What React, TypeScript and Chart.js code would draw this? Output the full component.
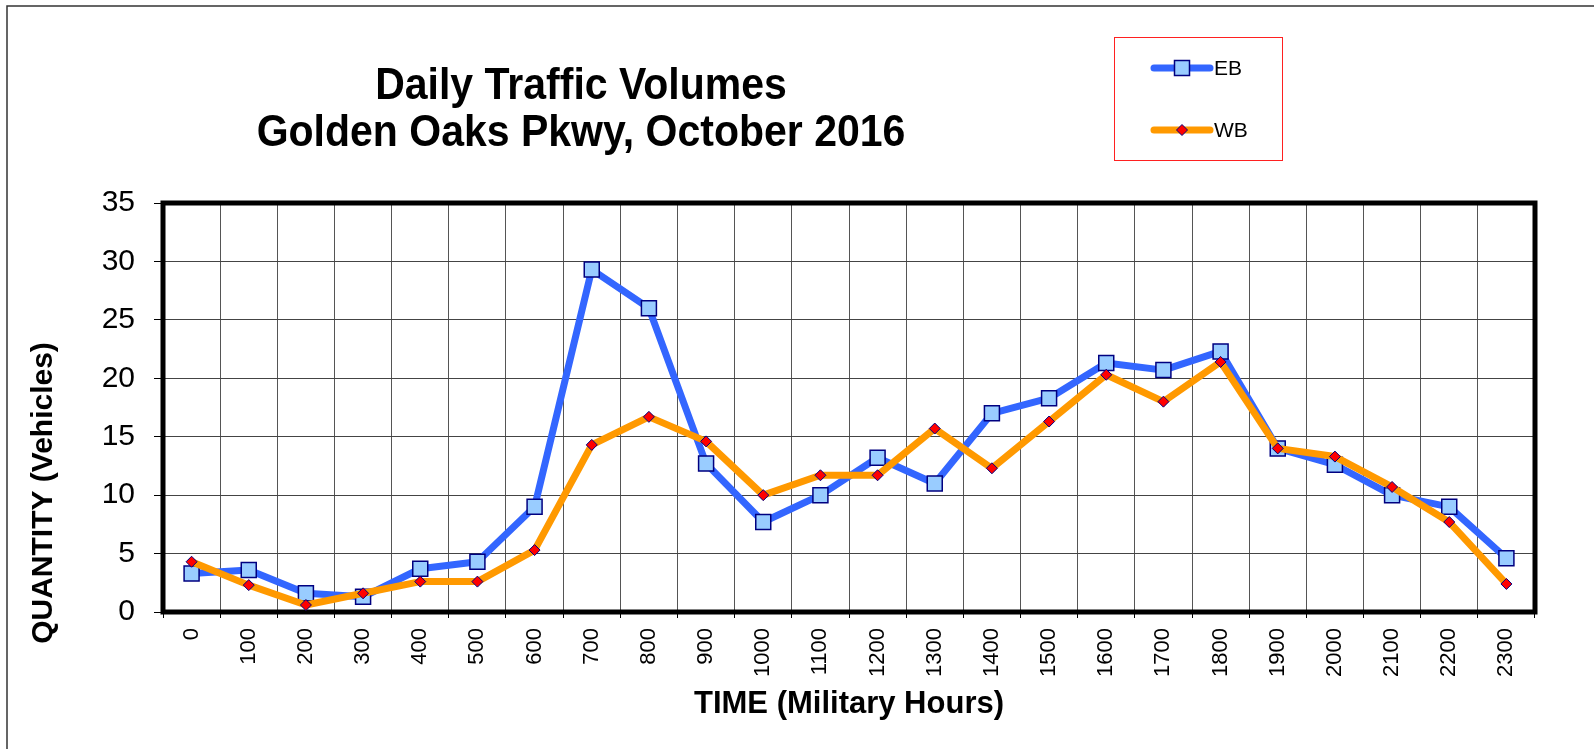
import React, { useEffect, useRef } from 'react';
import { Chart, registerables } from 'chart.js';

Chart.register(...registerables);

const categories = ['0', '100', '200', '300', '400', '500', '600', '700', '800', '900', '1000', '1100', '1200', '1300', '1400', '1500', '1600', '1700', '1800', '1900', '2000', '2100', '2200', '2300'];
const ebValues = [3.3, 3.6, 1.6, 1.3, 3.7, 4.3, 9.0, 29.3, 26.0, 12.7, 7.7, 10.0, 13.2, 11.0, 17.0, 18.3, 21.3, 20.7, 22.3, 14.0, 12.6, 10.0, 9.0, 4.6];
const wbValues = [4.3, 2.3, 0.6, 1.6, 2.6, 2.6, 5.3, 14.3, 16.7, 14.6, 10.0, 11.7, 11.7, 15.7, 12.3, 16.3, 20.3, 18.0, 21.4, 14.0, 13.3, 10.7, 7.7, 2.4];
const seriesNames = ['EB', 'WB'];
const titleLines = ['Daily Traffic Volumes', 'Golden Oaks Pkwy, October 2016'];
const xAxisTitle = 'TIME (Military Hours)';
const yAxisTitle = 'QUANTITY (Vehicles)';
const yMin = 0;
const yMax = 35;
const yStep = 5;

const FONT = '"Liberation Sans", Arial, Helvetica, sans-serif';

const decorPlugin = {
  id: 'decor',
  beforeDatasetsDraw(chart: any) {
    const { ctx, chartArea: a } = chart;
    ctx.save();
    ctx.strokeStyle = '#000';
    ctx.lineWidth = 5;
    ctx.strokeRect(a.left, a.top, a.right - a.left, a.bottom - a.top);
    ctx.restore();
  },
  afterDraw(chart: any) {
    const { ctx, chartArea: a } = chart;
    ctx.save();
    // outer chart border
    ctx.strokeStyle = '#333';
    ctx.lineWidth = 1.5;
    ctx.beginPath();
    ctx.moveTo(7, 760);
    ctx.lineTo(7, 6);
    ctx.lineTo(1600, 6);
    ctx.stroke();

    // title
    ctx.fillStyle = '#000';
    ctx.textAlign = 'center';
    ctx.textBaseline = 'alphabetic';
    ctx.font = 'bold 41px ' + FONT;
    const baselines = [98.5, 145.5];
    titleLines.forEach((t, i) => {
      ctx.save();
      ctx.translate(581, baselines[i]);
      ctx.scale(1, 1.07);
      ctx.fillText(t, 0, 0);
      ctx.restore();
    });

    // x axis title
    ctx.font = 'bold 31px ' + FONT;
    ctx.fillText(xAxisTitle, (a.left + a.right) / 2, 713);

    // y axis title
    ctx.save();
    ctx.translate(52, 493);
    ctx.rotate(-Math.PI / 2);
    ctx.font = 'bold 30px ' + FONT;
    ctx.fillText(yAxisTitle, 0, 0);
    ctx.restore();

    // legend
    ctx.strokeStyle = '#ff2020';
    ctx.lineWidth = 1;
    ctx.strokeRect(1114.5, 37.5, 168, 123);
    const rows = [68, 130];
    chart.data.datasets.forEach((ds: any, i: number) => {
      const y = rows[i];
      ctx.strokeStyle = ds.borderColor;
      ctx.lineWidth = 7;
      ctx.lineCap = 'round';
      ctx.beginPath();
      ctx.moveTo(1154, y);
      ctx.lineTo(1210, y);
      ctx.stroke();
      ctx.lineCap = 'butt';
      ctx.fillStyle = ds.pointBackgroundColor;
      ctx.strokeStyle = ds.pointBorderColor;
      ctx.lineWidth = ds.pointBorderWidth;
      ctx.beginPath();
      if (ds.pointStyle === 'rect') {
        ctx.rect(1182 - 7.5, y - 7.5, 15, 15);
      } else {
        const r = ds.pointRadius;
        ctx.moveTo(1182, y - r);
        ctx.lineTo(1182 + r, y);
        ctx.lineTo(1182, y + r);
        ctx.lineTo(1182 - r, y);
        ctx.closePath();
      }
      ctx.fill();
      ctx.stroke();
      ctx.fillStyle = '#000';
      ctx.textAlign = 'left';
      ctx.textBaseline = 'middle';
      ctx.font = '21px ' + FONT;
      ctx.fillText(ds.label, 1214, y + 1);
    });
    ctx.restore();
  },
};

export default function App() {
  const canvasRef = useRef<HTMLCanvasElement | null>(null);

  useEffect(() => {
    const canvas = canvasRef.current;
    if (!canvas) return;
    const chart = new Chart(canvas, {
      type: 'line',
      data: {
        labels: categories,
        datasets: [
          {
            label: seriesNames[0],
            data: ebValues,
            order: 1,
            borderColor: '#3366ff',
            borderWidth: 7,
            borderJoinStyle: 'round',
            tension: 0,
            pointStyle: 'rect',
            pointRadius: 10.6,
            pointBackgroundColor: '#99ccff',
            pointBorderColor: '#000080',
            pointBorderWidth: 1.5,
            clip: false,
          } as any,
          {
            label: seriesNames[1],
            data: wbValues,
            order: 0,
            borderColor: '#ff9900',
            borderWidth: 7,
            borderJoinStyle: 'round',
            tension: 0,
            pointStyle: 'rectRot',
            pointRadius: 5.5,
            pointBackgroundColor: '#ff0000',
            pointBorderColor: '#000080',
            pointBorderWidth: 1,
            clip: false,
          } as any,
        ],
      },
      options: {
        animation: false,
        responsive: false,
        devicePixelRatio: 1,
        events: [],
        layout: { padding: { top: 203, right: 59, left: 0, bottom: 0 } },
        plugins: {
          legend: { display: false },
          title: { display: false },
          tooltip: { enabled: false },
        },
        scales: {
          x: {
            type: 'category',
            offset: true,
            afterFit: (s: any) => {
              s.height = 137;
            },
            grid: {
              offset: true,
              color: '#555',
              lineWidth: 1,
              tickColor: '#000',
              tickLength: 6,
            },
            border: { display: false },
            ticks: {
              autoSkip: false,
              maxRotation: 90,
              minRotation: 90,
              padding: 10,
              color: '#000',
              font: { family: FONT, size: 22 },
            },
          },
          y: {
            min: yMin,
            max: yMax,
            afterFit: (s: any) => {
              s.width = 163;
            },
            grid: {
              color: '#444',
              lineWidth: 1,
              tickColor: '#000',
              tickLength: 9,
            },
            border: { display: false },
            ticks: {
              stepSize: yStep,
              padding: 19,
              color: '#000',
              font: { family: FONT, size: 30 },
            },
          },
        },
      },
      plugins: [decorPlugin],
    } as any);
    return () => chart.destroy();
  }, []);

  return (
    <div style={{ position: 'absolute', left: 0, top: 0, width: 1594, height: 749, background: '#fff' }}>
      <canvas ref={canvasRef} width={1594} height={749} style={{ display: 'block' }} />
    </div>
  );
}
